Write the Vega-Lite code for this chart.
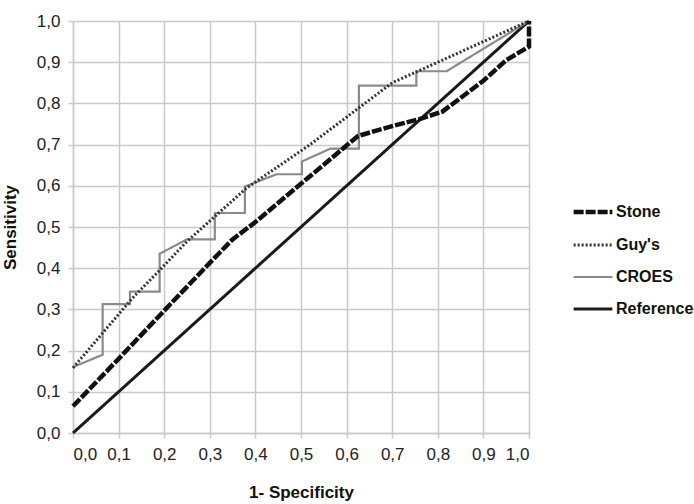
{
  "$schema": "https://vega.github.io/schema/vega-lite/v6.json",
  "width": 456,
  "height": 412,
  "autosize": {"type": "none"},
  "padding": {"left": 73, "top": 21, "right": 165, "bottom": 71},
  "background": "white",
  "config": {
    "font": "Liberation Sans",
    "view": {"stroke": null},
    "axis": {
      "gridColor": "#c9c9c9",
      "gridWidth": 1.5,
      "domainColor": "#c9c9c9",
      "domainWidth": 1.5,
      "tickColor": "#c9c9c9",
      "tickWidth": 1.5,
      "tickSize": 5,
      "labelFont": "Liberation Sans",
      "labelFontSize": 17,
      "labelColor": "#222",
      "labelPadding": 8,
      "titleFont": "Liberation Sans",
      "titleFontSize": 17,
      "titleFontWeight": "bold",
      "titleColor": "#111"
    }
  },
  "data": {
    "values": [
      {"series": "Reference", "i": 0, "x": 0, "y": 0},
      {"series": "Reference", "i": 1, "x": 1, "y": 1},

      {"series": "CROES", "i": 0, "x": 0, "y": 0.16},
      {"series": "CROES", "i": 1, "x": 0.065, "y": 0.19},
      {"series": "CROES", "i": 2, "x": 0.065, "y": 0.313},
      {"series": "CROES", "i": 3, "x": 0.125, "y": 0.313},
      {"series": "CROES", "i": 4, "x": 0.125, "y": 0.343},
      {"series": "CROES", "i": 5, "x": 0.19, "y": 0.343},
      {"series": "CROES", "i": 6, "x": 0.19, "y": 0.435},
      {"series": "CROES", "i": 7, "x": 0.25, "y": 0.47},
      {"series": "CROES", "i": 8, "x": 0.311, "y": 0.47},
      {"series": "CROES", "i": 9, "x": 0.311, "y": 0.534},
      {"series": "CROES", "i": 10, "x": 0.377, "y": 0.534},
      {"series": "CROES", "i": 11, "x": 0.377, "y": 0.598},
      {"series": "CROES", "i": 12, "x": 0.446, "y": 0.628},
      {"series": "CROES", "i": 13, "x": 0.502, "y": 0.628},
      {"series": "CROES", "i": 14, "x": 0.502, "y": 0.659},
      {"series": "CROES", "i": 15, "x": 0.564, "y": 0.69},
      {"series": "CROES", "i": 16, "x": 0.627, "y": 0.69},
      {"series": "CROES", "i": 17, "x": 0.627, "y": 0.843},
      {"series": "CROES", "i": 18, "x": 0.753, "y": 0.843},
      {"series": "CROES", "i": 19, "x": 0.753, "y": 0.878},
      {"series": "CROES", "i": 20, "x": 0.819, "y": 0.878},
      {"series": "CROES", "i": 21, "x": 1, "y": 1},

      {"series": "Guy's", "i": 0, "x": 0, "y": 0.158},
      {"series": "Guy's", "i": 1, "x": 0.13, "y": 0.327},
      {"series": "Guy's", "i": 2, "x": 0.19, "y": 0.395},
      {"series": "Guy's", "i": 3, "x": 0.25, "y": 0.465},
      {"series": "Guy's", "i": 4, "x": 0.38, "y": 0.594},
      {"series": "Guy's", "i": 5, "x": 0.52, "y": 0.7},
      {"series": "Guy's", "i": 6, "x": 0.628, "y": 0.79},
      {"series": "Guy's", "i": 7, "x": 0.7, "y": 0.85},
      {"series": "Guy's", "i": 8, "x": 1, "y": 1},

      {"series": "Stone", "i": 0, "x": 0, "y": 0.065},
      {"series": "Stone", "i": 1, "x": 0.1, "y": 0.18},
      {"series": "Stone", "i": 2, "x": 0.2, "y": 0.297},
      {"series": "Stone", "i": 3, "x": 0.3, "y": 0.413},
      {"series": "Stone", "i": 4, "x": 0.35, "y": 0.47},
      {"series": "Stone", "i": 5, "x": 0.4, "y": 0.512},
      {"series": "Stone", "i": 6, "x": 0.5, "y": 0.605},
      {"series": "Stone", "i": 7, "x": 0.625, "y": 0.721},
      {"series": "Stone", "i": 8, "x": 0.7, "y": 0.745},
      {"series": "Stone", "i": 9, "x": 0.76, "y": 0.762},
      {"series": "Stone", "i": 10, "x": 0.81, "y": 0.78},
      {"series": "Stone", "i": 11, "x": 0.9, "y": 0.855},
      {"series": "Stone", "i": 12, "x": 0.95, "y": 0.905},
      {"series": "Stone", "i": 13, "x": 1, "y": 0.938},
      {"series": "Stone", "i": 14, "x": 1, "y": 1}
    ]
  },
  "mark": {"type": "line", "strokeCap": "butt", "strokeJoin": "miter"},
  "encoding": {
    "x": {
      "field": "x", "type": "quantitative",
      "scale": {"domain": [0, 1], "nice": false, "zero": false},
      "axis": {"values": [0, 0.1, 0.2, 0.3, 0.4, 0.5, 0.6, 0.7, 0.8, 0.9, 1.0],
               "labelExpr": "replace(format(datum.value, '.1f'), '.', ',')",
               "title": "1- Specificity", "titlePadding": 22}
    },
    "y": {
      "field": "y", "type": "quantitative",
      "scale": {"domain": [0, 1], "nice": false, "zero": false},
      "axis": {"values": [0, 0.1, 0.2, 0.3, 0.4, 0.5, 0.6, 0.7, 0.8, 0.9, 1.0],
               "labelExpr": "replace(format(datum.value, '.1f'), '.', ',')",
               "title": "Sensitivity", "titlePadding": 17}
    },
    "order": {"field": "i", "type": "quantitative"},
    "color": {
      "field": "series", "type": "nominal",
      "scale": {"domain": ["Stone", "Guy's", "CROES", "Reference"],
                "range": ["#111111", "#333333", "#8a8a8a", "#1a1a1a"]},
      "legend": {
        "title": null, "orient": "none", "legendX": 512, "legendY": 183,
        "symbolType": "stroke", "symbolSize": 1500, "rowPadding": 16,
        "labelFont": "Liberation Sans", "labelFontSize": 16, "labelFontWeight": "bold",
        "labelColor": "#111", "labelOffset": 15, "padding": 0,
        "encode": {
          "symbols": {
            "update": {
              "strokeWidth": {"signal": "datum.value === 'Stone' ? 4.5 : datum.value === 'CROES' ? 2.2 : 3"}
            }
          }
        }
      }
    },
    "strokeDash": {
      "field": "series", "type": "nominal",
      "scale": {"domain": ["Stone", "Guy's", "CROES", "Reference"],
                "range": [[10, 2], [2, 2], [1, 0], [1, 0]]},
      "legend": null
    },
    "strokeWidth": {
      "condition": [
        {"test": "datum.series === 'Stone'", "value": 4.5},
        {"test": "datum.series === 'CROES'", "value": 2.2}
      ],
      "value": 3
    }
  }
}
